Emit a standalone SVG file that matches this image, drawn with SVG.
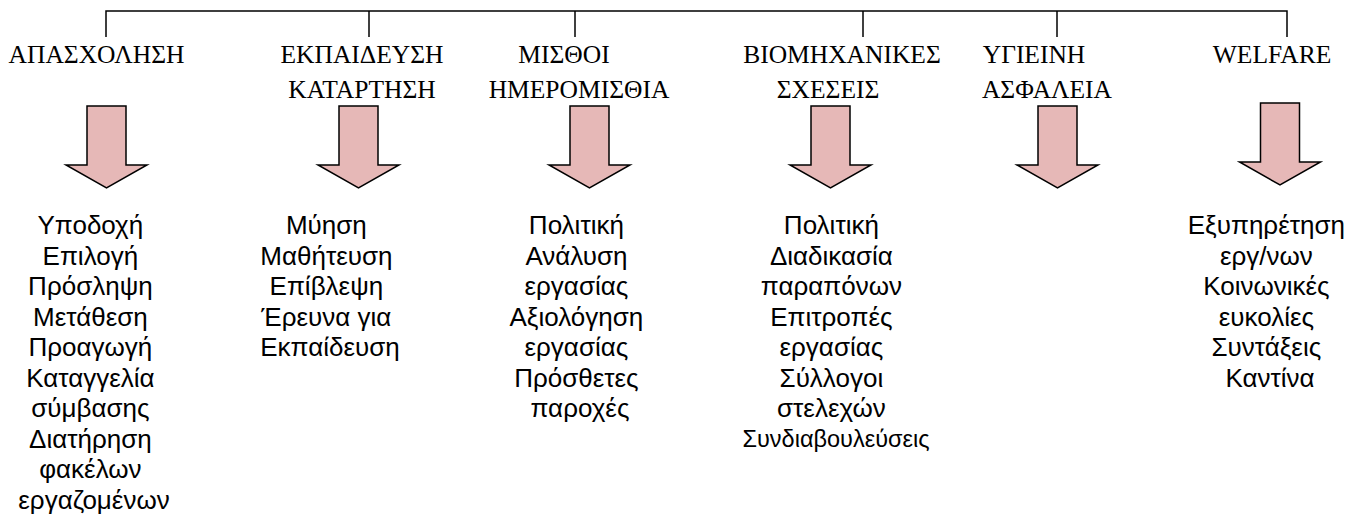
<svg xmlns="http://www.w3.org/2000/svg" width="1353" height="515" viewBox="0 0 1353 515">
  <style>
    .head { font-family: "Liberation Serif", "Times New Roman", serif; font-size: 25.5px; fill: #000; text-anchor: middle; }
    .body { font-family: "Liberation Sans", Arial, sans-serif; font-size: 26px; fill: #000; text-anchor: middle; }
    .small { font-size: 23.5px; }
    .tree { stroke: #000; stroke-width: 1.5; fill: none; }
    .arrow { fill: #E6B8B7; stroke: #000; stroke-width: 1.5; stroke-linejoin: miter; }
  </style>
  <defs>
    <!-- block arrow pointing down, origin at the top centre of the shaft -->
    <path id="downArrow" class="arrow" d="M -19.5 0 H 19.5 V 59 H 40.5 L 0 82 L -40.5 59 H -19.5 Z"/>
  </defs>

  <rect width="1353" height="515" fill="#fff"/>

  <!-- tree connectors -->
  <g id="connectors" class="tree">
    <path d="M 106 37 V 11 H 1287 V 37"/>
    <path d="M 369 11 V 37"/>
    <path d="M 575 11 V 37"/>
    <path d="M 863 11 V 37"/>
    <path d="M 1057 11 V 37"/>
  </g>

  <g id="apasxolisi">
    <text class="head" x="96.5" y="63">ΑΠΑΣΧΟΛΗΣΗ</text>
    <use href="#downArrow" x="106.5" y="106"/>
    <text class="body" x="94">
      <tspan x="94" y="234">Υποδοχή</tspan>
      <tspan x="94" y="264.5">Επιλογή</tspan>
      <tspan x="94" y="295">Πρόσληψη</tspan>
      <tspan x="94" y="325.5">Μετάθεση</tspan>
      <tspan x="94" y="356">Προαγωγή</tspan>
      <tspan x="94" y="386.5">Καταγγελία</tspan>
      <tspan x="94" y="417">σύμβασης</tspan>
      <tspan x="94" y="447.5">Διατήρηση</tspan>
      <tspan x="94" y="478">φακέλων</tspan>
      <tspan x="94" y="508.5">εργαζομένων</tspan>
    </text>
  </g>

  <g id="ekpaideusi">
    <text class="head" x="362" y="63">ΕΚΠΑΙΔΕΥΣΗ</text>
    <text class="head" x="362" y="98">ΚΑΤΑΡΤΗΣΗ</text>
    <use href="#downArrow" x="358.5" y="106"/>
    <text class="body" x="330">
      <tspan x="330" y="234">Μύηση</tspan>
      <tspan x="330" y="264.5">Μαθήτευση</tspan>
      <tspan x="330" y="295">Επίβλεψη</tspan>
      <tspan x="330" y="325.5">Έρευνα για</tspan>
      <tspan x="330" y="356">Εκπαίδευση</tspan>
    </text>
  </g>

  <g id="misthoi">
    <text class="head" x="564" y="63">ΜΙΣΘΟΙ</text>
    <text class="head" x="579" y="98">ΗΜΕΡΟΜΙΣΘΙΑ</text>
    <use href="#downArrow" x="589.5" y="106"/>
    <text class="body" x="580">
      <tspan x="580" y="234">Πολιτική</tspan>
      <tspan x="580" y="264.5">Ανάλυση</tspan>
      <tspan x="580" y="295">εργασίας</tspan>
      <tspan x="580" y="325.5">Αξιολόγηση</tspan>
      <tspan x="580" y="356">εργασίας</tspan>
      <tspan x="580" y="386.5">Πρόσθετες</tspan>
      <tspan x="580" y="417">παροχές</tspan>
    </text>
  </g>

  <g id="biomixanikes">
    <text class="head" x="842" y="63">ΒΙΟΜΗΧΑΝΙΚΕΣ</text>
    <text class="head" x="828" y="98">ΣΧΕΣΕΙΣ</text>
    <use href="#downArrow" x="830.5" y="106"/>
    <text class="body" x="835">
      <tspan x="835" y="234">Πολιτική</tspan>
      <tspan x="835" y="264.5">Διαδικασία</tspan>
      <tspan x="835" y="295">παραπόνων</tspan>
      <tspan x="835" y="325.5">Επιτροπές</tspan>
      <tspan x="835" y="356">εργασίας</tspan>
      <tspan x="835" y="386.5">Σύλλογοι</tspan>
      <tspan x="835" y="417">στελεχών</tspan>
      <tspan class="small" x="836" y="447">Συνδιαβουλεύσεις</tspan>
    </text>
  </g>

  <g id="ygieini">
    <text class="head" x="1034" y="63">ΥΓΙΕΙΝΗ</text>
    <text class="head" x="1047" y="98">ΑΣΦΑΛΕΙΑ</text>
    <use href="#downArrow" x="1057.5" y="106"/>
  </g>

  <g id="welfare">
    <text class="head" x="1272" y="63">WELFARE</text>
    <use href="#downArrow" x="1280" y="103"/>
    <text class="body" x="1270">
      <tspan x="1270" y="234">Εξυπηρέτηση</tspan>
      <tspan x="1270" y="264.5">εργ/νων</tspan>
      <tspan x="1270" y="295">Κοινωνικές</tspan>
      <tspan x="1270" y="325.5">ευκολίες</tspan>
      <tspan x="1270" y="356">Συντάξεις</tspan>
      <tspan x="1270" y="386.5">Καντίνα</tspan>
    </text>
  </g>
</svg>
